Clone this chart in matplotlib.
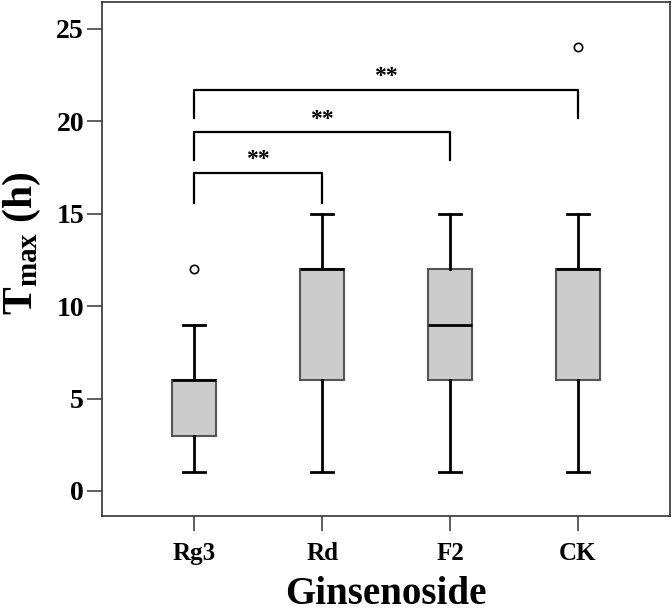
import matplotlib
matplotlib.use("Agg")
import matplotlib.pyplot as plt

# Box summary values
groups = ['Rg3', 'Rd', 'F2', 'CK']
whisk_low = [1, 1, 1, 1]
q1 = [3, 6, 6, 6]
medians = [6, 12, 9, 12]
q3 = [6, 12, 12, 12]
whisk_high = [9, 15, 15, 15]
outliers = [[12], [], [], [24]]

# Significance brackets: (from group, to group, top, leg bottom, label)
brackets = [(0, 1, 17.2, 15.6, '**'),
            (0, 2, 19.4, 17.9, '**'),
            (0, 3, 21.7, 20.2, '**')]

plt.rcParams['font.family'] = ['Liberation Serif', 'DejaVu Serif']
plt.rcParams['font.weight'] = 'bold'
plt.rcParams['mathtext.fontset'] = 'custom'
plt.rcParams['mathtext.rm'] = 'Liberation Serif:bold'
plt.rcParams['mathtext.bf'] = 'Liberation Serif:bold'
plt.rcParams['mathtext.it'] = 'Liberation Serif:bold'

fig = plt.figure(figsize=(6.72, 6.12), dpi=100)
ax = fig.add_axes([0.152, 0.157, 0.845, 0.840])

stats = []
for i, g in enumerate(groups):
    stats.append({'label': g, 'whislo': whisk_low[i], 'q1': q1[i], 'med': medians[i],
                  'q3': q3[i], 'whishi': whisk_high[i], 'fliers': outliers[i]})

positions = list(range(1, len(groups) + 1))
ax.bxp(stats, positions=positions, widths=0.345, patch_artist=True,
       boxprops=dict(facecolor='#cccccc', edgecolor='#555555', linewidth=1.5),
       medianprops=dict(color='black', linewidth=2),
       whiskerprops=dict(color='black', linewidth=2),
       capprops=dict(color='black', linewidth=2),
       flierprops=dict(marker='o', markersize=6, markerfacecolor='white',
                       markeredgecolor='black', markeredgewidth=1.2))

for a, b, top, low, txt in brackets:
    xa, xb = positions[a], positions[b]
    ax.plot([xa, xa, xb, xb], [low, top, top, low], color='black', lw=1.6)
    ax.text((xa + xb) / 2, top + 0.15, txt, ha='center', va='bottom', fontsize=17, fontweight='bold')

ax.set_xlim(0.28, 4.72)
ax.set_ylim(-1.35, 26.46)
ax.set_yticks([0, 5, 10, 15, 20, 25])
ax.set_xticks(positions)
ax.set_xticklabels(groups)
ax.tick_params(axis='y', labelsize=20, length=11, width=1.2, color='#444444', pad=2)
ax.tick_params(axis='x', labelsize=18, length=11, width=1.2, color='#444444', pad=8)
for s in ax.spines.values():
    s.set_linewidth(1.2)
    s.set_color('#333333')

ax.set_ylabel(r'T$_{\mathrm{max}}$ (h)', fontsize=30, fontweight='bold')
ax.yaxis.set_label_coords(-0.105, 0.53)
ax.set_xlabel('Ginsenoside', fontsize=28, fontweight='bold', labelpad=8)

fig.savefig('out.png', dpi=100)
